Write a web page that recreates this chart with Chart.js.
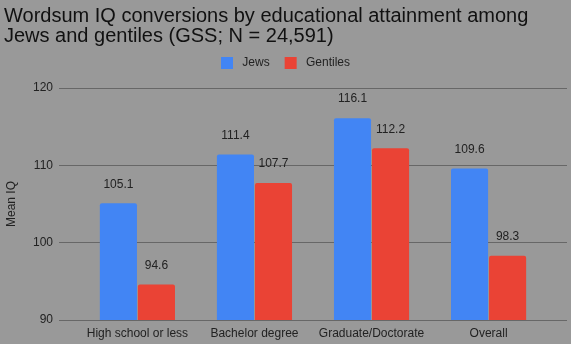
<!DOCTYPE html>
<html>
<head>
<meta charset="utf-8">
<script src="https://cdn.jsdelivr.net/npm/chart.js@4"></script>
<style>
html,body{margin:0;padding:0;background:#999999;}
#wrap{width:571px;height:344px;position:relative;}
</style>
</head>
<body>
<div id="wrap"><canvas id="c" width="571" height="344"></canvas></div>
<script>
const categories = ["High school or less", "Bachelor degree", "Graduate/Doctorate", "Overall"];
const jews = [105.1, 111.4, 116.1, 109.6];
const gentiles = [94.6, 107.7, 112.2, 98.3];
const yTicks = [90, 100, 110, 120];
const titleLines = ["Wordsum IQ conversions by educational attainment among", "Jews and gentiles (GSS; N = 24,591)"];

const FONT = "'Liberation Sans', Arial, sans-serif";

const labelPlugin = {
  id: 'valueLabels',
  afterDatasetsDraw(chart) {
    const ctx = chart.ctx;
    ctx.save();
    ctx.font = "12px " + FONT;
    ctx.fillStyle = "#222222";
    ctx.textAlign = "center";
    ctx.textBaseline = "middle";
    chart.data.datasets.forEach((ds, di) => {
      const meta = chart.getDatasetMeta(di);
      meta.data.forEach((el, i) => {
        ctx.fillText(ds.data[i].y.toFixed(1), el.x, el.y - 19);
      });
    });
    ctx.restore();
  }
};

// extra gap between legend and plot area
const spacerPlugin = {
  id: 'legendSpacer',
  beforeInit(chart) {
    const box = {
      position: 'top', weight: 0, fullSize: true, options: {},
      left: 0, top: 0, right: 0, bottom: 0, width: 0, height: 0,
      isHorizontal() { return true; },
      update(maxWidth) { this.width = maxWidth; this.height = 9; return { width: this.width, height: this.height }; },
      draw() {}
    };
    Chart.layouts.addBox(chart, box);
  }
};

new Chart(document.getElementById('c'), {
  type: 'bar',
  data: {
    datasets: [
      { label: 'Jews', data: jews.map((v, i) => ({x: i, y: v})), backgroundColor: '#4285F4', borderRadius: 2, borderSkipped: 'bottom', barPercentage: 0.975, categoryPercentage: 0.65 },
      { label: 'Gentiles', data: gentiles.map((v, i) => ({x: i, y: v})), backgroundColor: '#EA4335', borderRadius: 2, borderSkipped: 'bottom', barPercentage: 0.975, categoryPercentage: 0.65 }
    ]
  },
  options: {
    responsive: false,
    animation: false,
    devicePixelRatio: 1,
    layout: { padding: { left: 4, right: 4, top: 4, bottom: 0 } },
    plugins: {
      title: {
        display: true,
        text: titleLines,
        align: 'start',
        color: '#111111',
        font: { family: FONT, size: 20, weight: 'normal', lineHeight: 1.0 },
        padding: { top: 2, bottom: -4 }
      },
      legend: {
        display: true,
        position: 'top',
        labels: {
          boxWidth: 12, boxHeight: 12, color: '#222222', font: { family: FONT, size: 12 }, padding: 15,
          generateLabels(chart) {
            const items = Chart.defaults.plugins.legend.labels.generateLabels(chart);
            items.forEach(it => { it.text = ' ' + it.text; it.lineWidth = 0; });
            return items;
          }
        }
      },
      tooltip: { enabled: false }
    },
    scales: {
      x: {
        type: 'linear',
        min: -0.67,
        max: 3.67,
        offset: false,
        grid: { display: false, offset: false, drawTicks: false },
        border: { display: false },
        afterBuildTicks(scale) { scale.ticks = categories.map((c, i) => ({ value: i })); },
        afterFit(scale) { scale.height = 24; },
        ticks: {
          autoSkip: false,
          maxRotation: 0,
          color: '#222222',
          font: { family: FONT, size: 12 },
          padding: 6,
          callback: (v) => categories[v]
        }
      },
      y: {
        min: 90,
        max: 120,
        afterBuildTicks(scale) { scale.ticks = yTicks.map(v => ({ value: v })); },
        afterFit(scale) { scale.width = 55; },
        grid: { color: '#676767', lineWidth: 1, drawTicks: false },
        border: { display: false },
        ticks: { color: '#222222', font: { family: FONT, size: 12 }, padding: 6 },
        title: { display: true, text: 'Mean IQ', color: '#222222', font: { family: FONT, size: 12 }, padding: { top: 0, bottom: 4 } }
      }
    }
  },
  plugins: [labelPlugin, spacerPlugin]
});
</script>
</body>
</html>
